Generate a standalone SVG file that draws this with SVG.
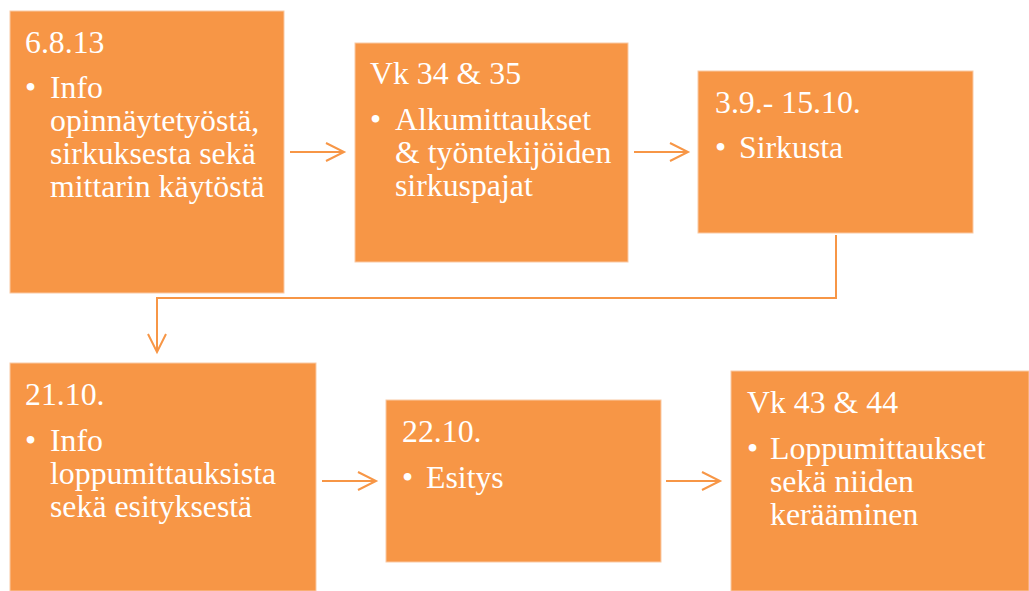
<svg xmlns="http://www.w3.org/2000/svg" width="1029" height="591" viewBox="0 0 1029 591">
<defs>
<style>
.box{fill:#F79646;stroke:#FAC9A3;stroke-width:1}
.t{font-family:"Liberation Serif","Times New Roman",serif;font-size:31.8px;fill:#FFFFFF}
.c{fill:none;stroke:#F79646;stroke-width:2}
</style>
<marker id="ah" markerWidth="22" markerHeight="22" viewBox="0 0 22 22" refX="19" refY="11" orient="auto" markerUnits="userSpaceOnUse">
<path d="M1,2 L19,11 L1,20" fill="none" stroke="#F79646" stroke-width="2"/>
</marker>
</defs>
<rect width="1029" height="591" fill="#FFFFFF"/>
<g id="connectors">
<line class="c" x1="290" y1="152" x2="344" y2="152" marker-end="url(#ah)"/>
<line class="c" x1="634" y1="152" x2="688" y2="152" marker-end="url(#ah)"/>
<polyline class="c" points="836,235 836,298 157,298 157,352" marker-end="url(#ah)"/>
<line class="c" x1="322" y1="481" x2="376" y2="481" marker-end="url(#ah)"/>
<line class="c" x1="666" y1="481" x2="720" y2="481" marker-end="url(#ah)"/>
</g>
<g id="node1">
<rect class="box" x="10" y="11" width="274" height="282"/>
<text class="t" x="25" y="53">6.8.13</text>
<text class="t" x="25" y="98">•</text>
<text class="t" x="50" y="98">Info</text>
<text class="t" x="50" y="131">opinnäytetyöstä,</text>
<text class="t" x="50" y="164">sirkuksesta sekä</text>
<text class="t" x="50" y="197">mittarin käytöstä</text>
</g>
<g id="node2">
<rect class="box" x="355" y="43" width="273" height="219"/>
<text class="t" x="370" y="84">Vk 34 &amp; 35</text>
<text class="t" x="370" y="130">•</text>
<text class="t" x="395" y="130">Alkumittaukset</text>
<text class="t" x="395" y="163">&amp; työntekijöiden</text>
<text class="t" x="395" y="196">sirkuspajat</text>
</g>
<g id="node3">
<rect class="box" x="698" y="71" width="275" height="162"/>
<text class="t" x="715" y="113">3.9.- 15.10.</text>
<text class="t" x="715" y="158">•</text>
<text class="t" x="739" y="158">Sirkusta</text>
</g>
<g id="node4">
<rect class="box" x="10" y="363" width="306" height="228"/>
<text class="t" x="25" y="405">21.10.</text>
<text class="t" x="25" y="451">•</text>
<text class="t" x="50" y="451">Info</text>
<text class="t" x="50" y="484">loppumittauksista</text>
<text class="t" x="50" y="517">sekä esityksestä</text>
</g>
<g id="node5">
<rect class="box" x="386" y="400" width="275" height="162"/>
<text class="t" x="402" y="442">22.10.</text>
<text class="t" x="402" y="488">•</text>
<text class="t" x="426" y="488">Esitys</text>
</g>
<g id="node6">
<rect class="box" x="731" y="371" width="298" height="220"/>
<text class="t" x="747" y="413">Vk 43 &amp; 44</text>
<text class="t" x="747" y="459">•</text>
<text class="t" x="770" y="459">Loppumittaukset</text>
<text class="t" x="770" y="492">sekä niiden</text>
<text class="t" x="770" y="525">kerääminen</text>
</g>
</svg>
